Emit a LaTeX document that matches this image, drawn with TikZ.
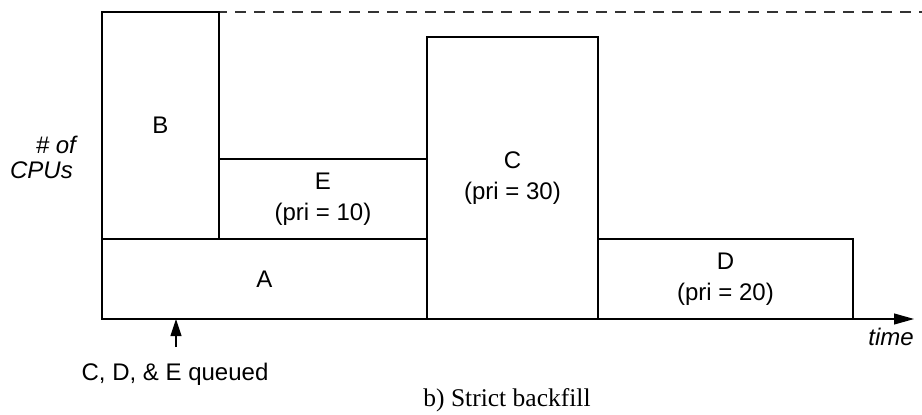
\documentclass[tikz,border=0pt]{standalone}
\usepackage{fontspec}
\setmainfont{Liberation Sans}
\newfontfamily\capfont{Liberation Serif}
\usetikzlibrary{arrows.meta}
\tikzset{
  jobbox/.style={draw=black, line width=1.1pt, inner sep=0pt, align=center,
    font=\fontsize{24}{31}\selectfont},
  lbl/.style={inner sep=0pt, font=\fontsize{24}{28}\selectfont},
  axis/.style={line width=1.1pt, -{Triangle[length=20pt,width=11pt]}},
  qarrow/.style={line width=1.1pt, -{Triangle[length=17pt,width=11pt]}},
}
\begin{document}
\begin{tikzpicture}[x=1pt,y=-1pt]
\useasboundingbox (0,0) rectangle (922,415);
% dashed top
\coordinate (dl) at (102,12);
\coordinate (dr) at (922,12);
\draw[line width=1.1pt, dash pattern=on 11pt off 8pt, black!80] (dl) -- (dr);
% boxes
\node[jobbox, minimum width=325pt, minimum height=80pt] (A) at (264.5,279) {A};
\node[jobbox, minimum width=117pt, minimum height=227pt] (B) at (160.5,125.5) {B};
\node[jobbox, minimum width=208pt, minimum height=80pt] (E) at (323,199) {E\\(pri = 10)};
\node[jobbox, minimum width=171pt, minimum height=282pt] (C) at (512.5,178) {C\\(pri = 30)};
\node[jobbox, minimum width=255pt, minimum height=80pt] (D) at (725.5,279) {D\\(pri = 20)};
% axis
\coordinate (o) at (102,319);
\coordinate (xe) at (914,319);
\draw[axis] (o) -- (xe);
\node[lbl, anchor=base] (time) at (891,345) {\itshape time};
\node[lbl, anchor=base east] (cpu1) at (76,153) {\itshape \# of};
\node[lbl, anchor=base east] (cpu2) at (73,178) {\itshape CPUs};
% queued arrow
\coordinate (qt) at (176,319);
\coordinate (qb) at (176,347);
\draw[qarrow] (qb) -- (qt);
\node[lbl, anchor=base] (q) at (175,380) {C, D, \& E queued};
% caption
\node[inner sep=0pt, anchor=base, font=\capfont\fontsize{25.5}{28}\selectfont] (cap) at (507,406) {b) Strict backfill};
\end{tikzpicture}
\end{document}
